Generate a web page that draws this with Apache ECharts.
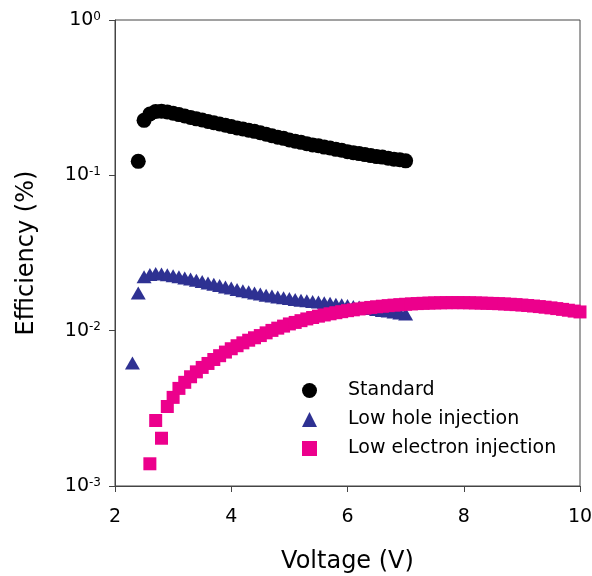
<!DOCTYPE html>
<html>
<head>
<meta charset="utf-8">
<script src="https://cdn.jsdelivr.net/npm/echarts@6/dist/echarts.min.js"></script>
<style>
html,body{margin:0;padding:0;background:#fff;}
#chart{width:592px;height:576px;}
</style>
</head>
<body>
<div id="chart"></div>
<script type="text/javascript">
// voltage (V) / efficiency (%)
var std_x = [2.4,2.5,2.6,2.7,2.8,2.9,3.0,3.1,3.2,3.3,3.4,3.5,3.6,3.7,3.8,3.9,4.0,4.1,4.2,4.3,4.4,4.5,4.6,4.7,4.8,4.9,
    5.0,5.1,5.2,5.3,5.4,5.5,5.6,5.7,5.8,5.9,6.0,6.1,6.2,6.3,6.4,6.5,6.6,6.7,6.8,6.9,7.0];
var std_y = [0.123,0.226,0.248,0.258,0.259,0.256,0.251,0.246,0.241,0.236,0.231,0.227,0.222,0.218,0.214,0.210,0.206,0.202,0.199,0.195,0.192,0.188,0.184,0.180,0.176,0.173,
    0.169,0.166,0.163,0.160,0.157,0.155,0.152,0.150,0.147,0.145,0.142,0.140,0.138,0.136,0.134,0.132,0.131,0.129,0.127,0.126,0.124];

var hole_x = [2.3,2.4,2.5,2.6,2.7,2.8,2.9,3.0,3.1,3.2,3.3,3.4,3.5,3.6,3.7,3.8,3.9,4.0,4.1,4.2,4.3,4.4,4.5,4.6,4.7,4.8,4.9,
    5.0,5.1,5.2,5.3,5.4,5.5,5.6,5.7,5.8,5.9,6.0,6.1,6.2,6.3,6.4,6.5,6.6,6.7,6.8,6.9,7.0];
var hole_y = [0.0062,0.0175,0.0222,0.0230,0.0233,0.0232,0.0229,0.0226,0.0222,0.0218,0.0215,0.0211,0.0207,0.0203,0.0199,0.0195,0.0191,0.0188,0.0184,0.0181,0.0178,0.0175,0.0172,0.0169,0.0167,0.0165,0.0163,
    0.0161,0.0159,0.0157,0.0156,0.0154,0.0153,0.0151,0.0150,0.0148,0.0147,0.0145,0.0143,0.0142,0.0140,0.0139,0.0137,0.0135,0.0134,0.0132,0.0130,0.0128];

var elec_x = [2.6,2.7,2.8,2.9,3.0,3.1,3.2,3.3,3.4,3.5,3.6,3.7,3.8,3.9,4.0,4.1,4.2,4.3,4.4,4.5,4.6,4.7,4.8,4.9,
    5.0,5.1,5.2,5.3,5.4,5.5,5.6,5.7,5.8,5.9,6.0,6.1,6.2,6.3,6.4,6.5,6.6,6.7,6.8,6.9,
    7.0,7.1,7.2,7.3,7.4,7.5,7.6,7.7,7.8,7.9,8.0,8.1,8.2,8.3,8.4,8.5,8.6,8.7,8.8,8.9,
    9.0,9.1,9.2,9.3,9.4,9.5,9.6,9.7,9.8,9.9,10.0];
var elec_y = [0.00139,0.00264,0.00203,0.00325,0.00372,0.00425,0.00465,0.00505,0.00543,0.00580,0.00615,0.00652,0.00690,0.00728,0.00765,0.00800,0.00835,0.00868,0.00900,0.00930,0.00968,0.01004,0.01038,0.01070,
    0.01105,0.01130,0.01160,0.01190,0.01215,0.01240,0.01262,0.01284,0.01305,0.01325,0.01345,0.01362,0.01380,0.01396,0.01411,0.01425,0.01437,0.01449,0.01460,0.01470,
    0.01479,0.01487,0.01494,0.01500,0.01505,0.01509,0.01512,0.01514,0.01515,0.01515,0.01514,0.01512,0.01509,0.01505,0.01501,0.01497,0.01492,0.01486,0.01479,0.01471,
    0.01462,0.01452,0.01441,0.01429,0.01416,0.01402,0.01387,0.01371,0.01354,0.01337,0.01320];

var x_ticks = [2,4,6,8,10];
var series_names = ['Standard','Low hole injection','Low electron injection'];

var pairs = function(xs, ys){
    var out = [];
    for(var i=0;i<xs.length;i++){
        out.push([xs[i], ys[i]]);
    }
    return out;
}

var font = 'DejaVu Sans';
var option = {
    backgroundColor: '#ffffff',
    animation: false,
    grid: {
        left: 115,
        right: 12,
        top: 20,
        bottom: 90,
        outerBoundsMode: 'none',
        show: true,
        borderColor: '#444',
        borderWidth: 1,
        backgroundColor: 'transparent'
    },
    legend: {
        orient: 'vertical',
        left: 297,
        top: 376,
        itemWidth: 15,
        itemHeight: 15,
        itemGap: 10,
        selectedMode: false,
        textStyle: { fontFamily: font, fontSize: 19, color: '#000', padding: [0, 0, 0, 26] },
        data: [
            { name: series_names[0], icon: 'circle' },
            { name: series_names[1], icon: 'triangle' },
            { name: series_names[2], icon: 'rect' }
        ]
    },
    xAxis: {
        type: 'value',
        min: 2,
        max: 10,
        interval: 2,
        name: 'Voltage (V)',
        nameLocation: 'middle',
        nameGap: 64,
        nameTextStyle: { fontFamily: font, fontSize: 24, color: '#000' },
        axisLine: { lineStyle: { color: '#444', width: 1 } },
        axisTick: { show: true, length: 6, lineStyle: { color: '#444' } },
        axisLabel: {
            margin: 22,
            fontFamily: font,
            fontSize: 19,
            color: '#000',
            formatter: function(v){
                return x_ticks.indexOf(v) >= 0 ? String(v) : '';
            }
        },
        splitLine: { show: false }
    },
    yAxis: {
        type: 'log',
        logBase: 10,
        min: 0.001,
        max: 1,
        name: 'Efficiency (%)',
        nameLocation: 'middle',
        nameGap: 76,
        nameTextStyle: { fontFamily: font, fontSize: 24, color: '#000' },
        axisLine: { lineStyle: { color: '#444', width: 1 } },
        axisTick: { show: true, length: 6, lineStyle: { color: '#444' } },
        minorTick: { show: false },
        axisLabel: {
            margin: 14,
            color: '#000',
            formatter: function(v){
                var e = Math.round(Math.log(v) / Math.LN10);
                return '{b|10}{s|' + (e < 0 ? '-' + (-e) : e) + '}';
            },
            rich: {
                b: { fontFamily: font, fontSize: 19, color: '#000' },
                s: { fontFamily: font, fontSize: 12, color: '#000', verticalAlign: 'top', padding: [0,0,6,0] }
            }
        },
        splitLine: { show: false }
    },
    series: [{
        name: series_names[0],
        type: 'scatter',
        symbol: 'circle',
        symbolSize: 15,
        itemStyle: { color: '#000000', opacity: 1 },
        emphasis: { disabled: true },
        data: pairs(std_x, std_y)
    }, {
        name: series_names[1],
        type: 'scatter',
        symbol: 'triangle',
        symbolSize: [15, 13],
        itemStyle: { color: '#2E3192', opacity: 1 },
        emphasis: { disabled: true },
        data: pairs(hole_x, hole_y)
    }, {
        name: series_names[2],
        type: 'scatter',
        symbol: 'rect',
        symbolSize: 13,
        itemStyle: { color: '#EC008C', opacity: 1 },
        emphasis: { disabled: true },
        data: pairs(elec_x, elec_y)
    }]
};
var chart = echarts.init(document.getElementById('chart'));
chart.setOption(option);
</script>
</body>
</html>
